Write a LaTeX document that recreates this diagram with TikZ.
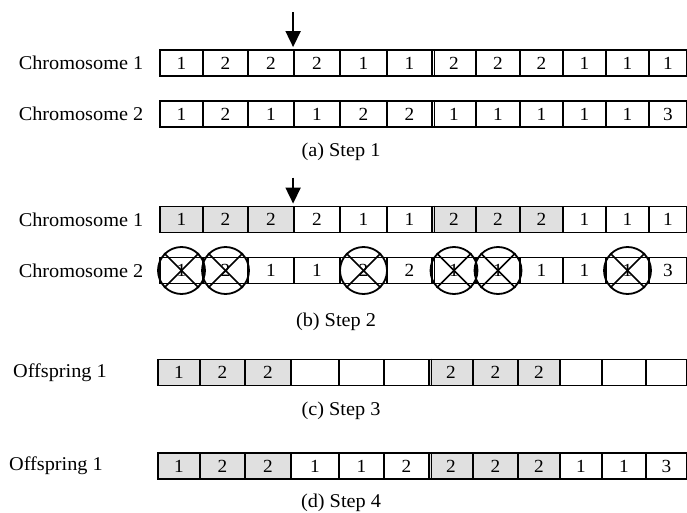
\documentclass[tikz,border=0pt]{standalone}
\usepackage{fontspec}
\setmainfont[FakeStretch=1.04]{Liberation Serif}
\usetikzlibrary{arrows.meta}
\definecolor{shade}{RGB}{224,224,224}
\tikzset{
  cellbox/.style={draw, line width=1.8pt, inner sep=0pt, minimum height=26pt, font=\fontsize{18.5}{19}\selectfont},
  lbl/.style={inner sep=0pt, font=\fontsize{19.5}{21}\selectfont},
  steptext/.style={inner sep=0pt, font=\fontsize{19.5}{21}\selectfont},
  xring/.style={draw, circle, line width=1.8pt, minimum size=47pt, inner sep=0pt},
  xline/.style={line width=1.6pt},
  dbl/.style={line width=1.4pt},
  cutarrow/.style={line width=1.8pt, -{Triangle[length=16pt,width=15pt]}}
}
\newcommand{\cellrow}[3]{%
  \foreach \a/\b/\t/\f [count=\i] in {#3} {
    \pgfmathsetmacro\w{\b-\a}
    \pgfmathsetmacro\c{(\a+\b)/2}
    \node[cellbox, minimum width=\w pt, fill=\f] (#1c\i) at (\c,#2) {\t};
  }
}
\begin{document}
\begin{tikzpicture}[x=1pt,y=-1pt]
\useasboundingbox (0,0) rectangle (687,513);
% ---- Step 1
\node[lbl] (l1) at (81,63) {Chromosome 1};
\node[lbl] (l2) at (81,114) {Chromosome 2};
\cellrow{ra}{63}{160/203/1/white,203/248/2/white,248/294/2/white,294/340/2/white,340/387/1/white,387/432/1/white,432/476/2/white,476/520/2/white,520/563/2/white,563/606/1/white,606/649/1/white,649/687/1/white}
\cellrow{rb}{114}{160/203/1/white,203/248/2/white,248/294/1/white,294/340/1/white,340/387/2/white,387/432/2/white,432/476/1/white,476/520/1/white,520/563/1/white,563/606/1/white,606/649/1/white,649/687/3/white}
\draw[dbl] ([xshift=3.5pt]rac7.north west) -- ([xshift=3.5pt]rac7.south west);
\draw[dbl] ([xshift=3.5pt]rbc7.north west) -- ([xshift=3.5pt]rbc7.south west);
\coordinate (a1) at ([yshift=37pt]rac4.north west);
\draw[cutarrow] (a1) -- ([yshift=2pt]rac4.north west);
\node[steptext] (ca) at (341,152) {(a) Step 1};
% ---- Step 2
\node[lbl] (l3) at (81,219.5) {Chromosome 1};
\node[lbl] (l4) at (81,270.5) {Chromosome 2};
\cellrow{rc}{219.5}{160/203/1/shade,203/248/2/shade,248/294/2/shade,294/340/2/white,340/387/1/white,387/432/1/white,432/476/2/shade,476/520/2/shade,520/563/2/shade,563/606/1/white,606/649/1/white,649/687/1/white}
\cellrow{rd}{270.5}{160/203/1/white,203/248/2/white,248/294/1/white,294/340/1/white,340/387/2/white,387/432/2/white,432/476/1/white,476/520/1/white,520/563/1/white,563/606/1/white,606/649/1/white,649/687/3/white}
\draw[dbl] ([xshift=3.5pt]rcc7.north west) -- ([xshift=3.5pt]rcc7.south west);
\draw[dbl] ([xshift=3.5pt]rdc7.north west) -- ([xshift=3.5pt]rdc7.south west);
\coordinate (a2) at ([yshift=28pt]rcc4.north west);
\draw[cutarrow] (a2) -- ([yshift=2pt]rcc4.north west);
\foreach \k in {1,2,5,7,8,11} {
  \node[xring] (x\k) at (rdc\k) {};
  \draw[xline] (x\k.north west) -- (x\k.south east);
  \draw[xline] (x\k.north east) -- (x\k.south west);
}
\node[steptext] (cb) at (336,322) {(b) Step 2};
% ---- Step 3
\node[lbl] (l5) at (60,372.5) {Offspring 1};
\cellrow{re}{372.5}{158/200/1/shade,200/245/2/shade,245/291/2/shade,291/339/{}/white,339/384/{}/white,384/429/{}/white,429/473/2/shade,473/518/2/shade,518/560/2/shade,560/602/{}/white,602/646/{}/white,646/687/{}/white}
\draw[dbl] ([xshift=3.5pt]rec7.north west) -- ([xshift=3.5pt]rec7.south west);
\node[steptext] (cc) at (341,411) {(c) Step 3};
% ---- Step 4
\node[lbl] (l6) at (56,466) {Offspring 1};
\cellrow{rf}{466}{158/200/1/shade,200/245/2/shade,245/291/2/shade,291/339/1/white,339/384/1/white,384/429/2/white,429/473/2/shade,473/518/2/shade,518/560/2/shade,560/602/1/white,602/646/1/white,646/687/3/white}
\draw[dbl] ([xshift=3.5pt]rfc7.north west) -- ([xshift=3.5pt]rfc7.south west);
\node[steptext] (cd) at (341,503) {(d) Step 4};
\end{tikzpicture}
\end{document}
